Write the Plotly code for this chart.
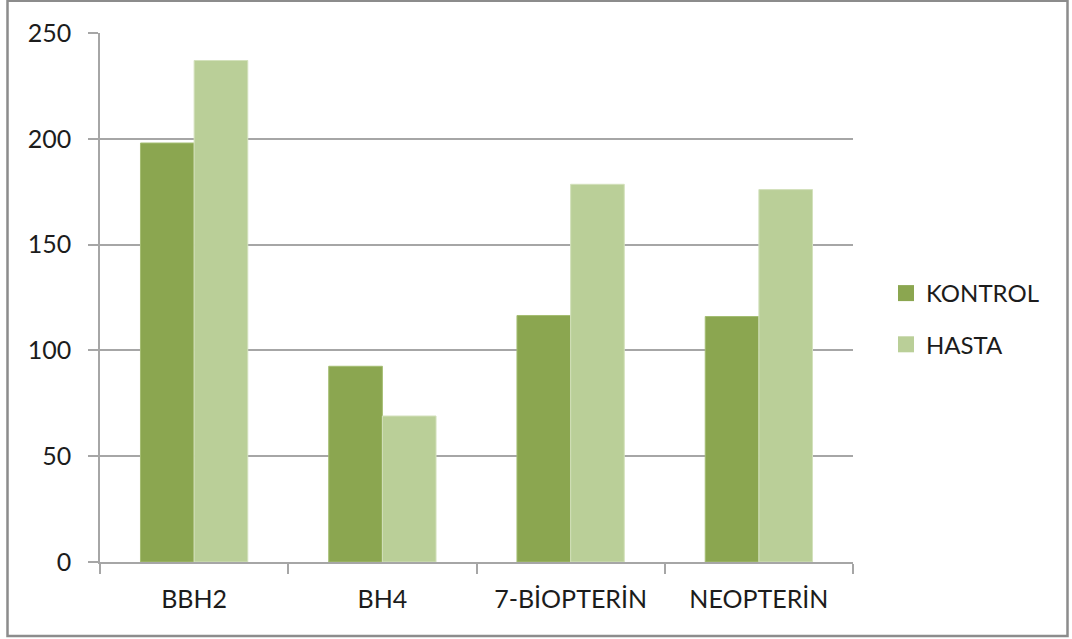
import plotly.graph_objects as go

categories = ["BBH2", "BH4", "7-BİOPTERİN", "NEOPTERİN"]
kontrol = [198, 92.5, 116.5, 116]
hasta = [237, 69, 178.5, 176]
y_ticks = [0, 50, 100, 150, 200, 250]

KONTROL_COLOR = "#8BA650"
HASTA_COLOR = "#BACF98"
GRID = "#A6A6A6"
FONT = "Lato"

fig = go.Figure()
fig.add_trace(go.Bar(name="KONTROL", x=categories, y=kontrol,
                     marker=dict(color=KONTROL_COLOR, line=dict(color="#A4BD72", width=1)),
                     showlegend=False))
fig.add_trace(go.Bar(name="HASTA", x=categories, y=hasta,
                     marker=dict(color=HASTA_COLOR, line=dict(color="#D3E1BC", width=1)),
                     showlegend=False))

# legend entries drawn as square markers
for name, color, grp in [("KONTROL", KONTROL_COLOR, "a"), ("HASTA", HASTA_COLOR, "b")]:
    fig.add_trace(go.Scatter(x=[None], y=[None], mode="markers", name=name,
                             legendgroup=grp,
                             marker=dict(symbol="square", size=16, color=color)))

W, H = 1072, 639
L, R, T, B = 100, 853, 33, 562
pw, ph = R - L, B - T

def px(x):
    return (x - L) / pw

def py(y):
    return (B - y) / ph

fig.update_layout(
    width=W, height=H,
    margin=dict(l=L, r=W - R, t=T, b=H - B, pad=0),
    paper_bgcolor="white", plot_bgcolor="white",
    barmode="group", bargap=0.43, bargroupgap=0,
    font=dict(family=FONT, size=25, color="#1c1c1c"),
    legend=dict(x=px(886), y=py(271), xanchor="left", yanchor="top",
                traceorder="grouped", tracegroupgap=17,
                font=dict(size=24), itemwidth=30, bgcolor="rgba(0,0,0,0)"),
    xaxis=dict(showline=True, linecolor=GRID, linewidth=1.5,
               ticks="outside", tickson="boundaries", ticklen=10,
               tickcolor=GRID, tickwidth=1.5, ticklabelstandoff=14,
               showgrid=False),
    yaxis=dict(range=[0, 250], tickvals=y_ticks, showline=True, linecolor=GRID,
               linewidth=1.5, ticks="outside", ticklen=10, tickcolor=GRID,
               tickwidth=1.5, showgrid=True, gridcolor=GRID, gridwidth=1.5,
               ticklabelstandoff=12, zeroline=False),
    shapes=[dict(type="rect", xref="paper", yref="paper",
                 x0=px(7.5), x1=px(1067.5), y0=py(636), y1=py(0.8),
                 line=dict(color="#8C8C8C", width=2.5), layer="above")],
)

fig.write_html("out.html")
